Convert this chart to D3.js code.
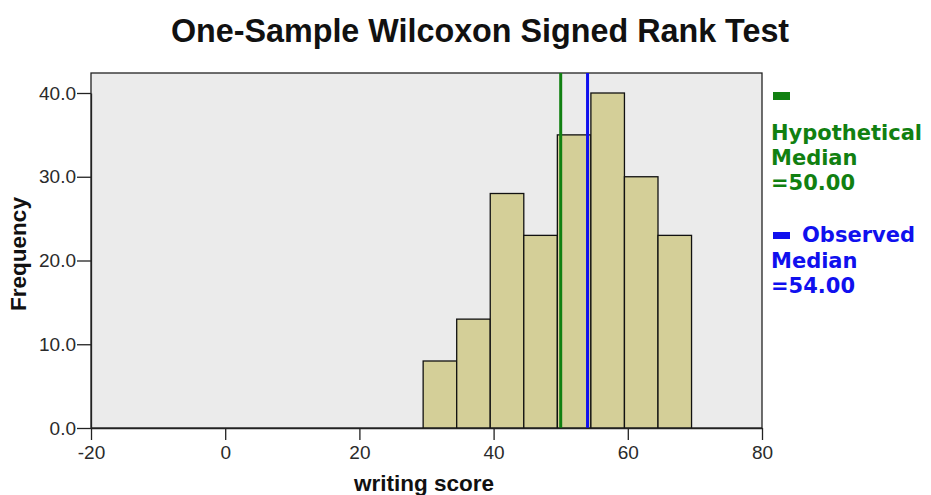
<!DOCTYPE html>
<html><head><meta charset="utf-8">
<script src="https://cdn.jsdelivr.net/npm/d3@7"></script>
<style>body{margin:0;background:#fff}svg{display:block}text{font-family:Arial,"Liberation Sans",sans-serif}</style>
</head><body><svg id="c" width="931" height="495"></svg>
<script>
const binStarts = [29.5, 34.5, 39.5, 44.5, 49.5, 54.5, 59.5, 64.5];
const binWidth = 5;
const frequencies = [8, 13, 28, 23, 35, 40, 30, 23];
const xTicks = [-20, 0, 20, 40, 60, 80];
const yTicks = [0, 10, 20, 30, 40];
const hypotheticalMedian = 50;
const observedMedian = 54;

const svg = d3.select("#c");
const L = 91, R = 762, T = 73, B = 428;
const x = d3.scaleLinear().domain([-20, 80]).range([L, R]);
const y = d3.scaleLinear().domain([0, 40]).range([B, 93]);

svg.append("text").attr("x", 480).attr("y", 42).attr("text-anchor", "middle")
  .attr("font-size", 32.3).attr("font-weight", "bold").attr("fill", "#111")
  .text("One-Sample Wilcoxon Signed Rank Test");

svg.append("rect").attr("x", L).attr("y", T).attr("width", R - L).attr("height", B - T)
  .attr("fill", "#ebebeb").attr("stroke", "#222").attr("stroke-width", 1.3);

svg.append("g").selectAll("rect").data(frequencies).join("rect")
  .attr("x", (d, i) => x(binStarts[i]))
  .attr("width", (d, i) => x(binStarts[i] + binWidth) - x(binStarts[i]))
  .attr("y", d => y(d)).attr("height", d => y(0) - y(d))
  .attr("fill", "#d4cf98").attr("stroke", "#111").attr("stroke-width", 1.3);

svg.append("line").attr("x1", x(hypotheticalMedian)).attr("x2", x(hypotheticalMedian))
  .attr("y1", T).attr("y2", B).attr("stroke", "#118011").attr("stroke-width", 3);
svg.append("line").attr("x1", x(observedMedian)).attr("x2", x(observedMedian))
  .attr("y1", T).attr("y2", B).attr("stroke", "#1010ee").attr("stroke-width", 3);

const xa = svg.append("g").attr("transform", `translate(0,${B})`)
  .call(d3.axisBottom(x).tickValues(xTicks).tickSize(12).tickPadding(6).tickSizeOuter(0)
    .tickFormat(d => String(d)));
xa.select(".domain").attr("stroke", "#222").attr("stroke-width", 1.3);
xa.selectAll(".tick line").attr("stroke", "#222").attr("stroke-width", 1.3);
xa.selectAll(".tick text").attr("font-size", 19).attr("fill", "#2a2a2a");

const ya = svg.append("g").attr("transform", `translate(${L},0)`)
  .call(d3.axisLeft(y).tickValues(yTicks).tickSize(14).tickPadding(1).tickSizeOuter(0).tickFormat(d3.format(".1f")));
ya.select(".domain").attr("stroke", "#222").attr("stroke-width", 1.3);
ya.selectAll(".tick line").attr("stroke", "#222").attr("stroke-width", 1.3);
ya.selectAll(".tick text").attr("font-size", 19).attr("fill", "#2a2a2a");

svg.append("text").attr("x", 424).attr("y", 491).attr("text-anchor", "middle")
  .attr("font-size", 22.5).attr("font-weight", "bold").attr("fill", "#111").text("writing score");
svg.append("text").attr("transform", "translate(26,254) rotate(-90)").attr("text-anchor", "middle")
  .attr("font-size", 22.5).attr("font-weight", "bold").attr("fill", "#111").text("Frequency");

// legend
const legendX = 771;
const legendItems = [
  {color: "#118011", mark: [92, 100], first: "", lines: ["Hypothetical", "Median", "=50.00"], base: [140, 165, 190]},
  {color: "#1010ee", mark: [232, 239], first: "Observed", lines: ["Median", "=54.00"], base: [242, 268, 293]}
];
legendItems.forEach(g => {
  svg.append("rect").attr("x", legendX + 2).attr("y", g.mark[0]).attr("width", 17)
    .attr("height", g.mark[1] - g.mark[0]).attr("fill", g.color);
  let bi = 0;
  const rows = g.first ? [[g.first, legendX + 31]] : [];
  g.lines.forEach(s => rows.push([s, legendX]));
  rows.forEach(([s, xx]) => {
    svg.append("text").attr("x", xx).attr("y", g.base[bi++])
      .style("font-family", "'DejaVu Sans', Verdana, sans-serif")
      .attr("font-size", 21).attr("font-weight", "bold").attr("fill", g.color).text(s);
  });
});
</script></body></html>
